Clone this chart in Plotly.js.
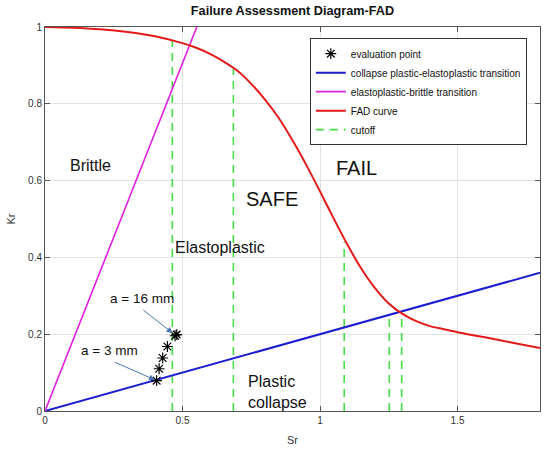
<!DOCTYPE html>
<html>
<head>
<meta charset="utf-8">
<script src="https://cdn.plot.ly/plotly-3.0.1.min.js"></script>
<style>
  html, body { margin: 0; padding: 0; background: #fff; }
  #plot1 { width: 550px; height: 452px; }
</style>
</head>
<body>
<div id="plot1"></div>
<script>
// values

// FAD curve (Sr, Kr)
var fadSr = [0, 0.1, 0.2, 0.3, 0.4, 0.5, 0.55, 0.6, 0.65, 0.7, 0.75, 0.8, 0.85, 0.9, 0.95,
  1.0, 1.05, 1.1, 1.15, 1.2, 1.25, 1.3, 1.35, 1.4, 1.45, 1.5, 1.6, 1.7, 1.8];
var fadKr = [1.0, 0.998, 0.994, 0.987, 0.976, 0.958, 0.946, 0.930, 0.910, 0.886, 0.852, 0.811, 0.763, 0.705, 0.641,
  0.572, 0.501, 0.433, 0.371, 0.320, 0.280, 0.253, 0.234, 0.221, 0.213, 0.205, 0.192, 0.178, 0.164];

// collapse plastic-elastoplastic transition
var collapseSr = [0, 1.8];
var collapseKr = [0, 0.36];

// elastoplastic-brittle transition
var brittleSr = [0, 0.552];
var brittleKr = [0, 1];

// evaluation points (a = 3 mm ... a = 16 mm)
var evalSr = [0.406, 0.415, 0.428, 0.445, 0.473, 0.479];
var evalKr = [0.079, 0.110, 0.138, 0.168, 0.196, 0.199];

// cutoff lines: position and top
var cutoffSr = [0.463, 0.685, 1.088, 1.252, 1.297];
var cutoffTop = [0.967, 0.89, 0.44, 0.255, 0.25];

function draw() {
  try {
    var font = 'Liberation Sans, Arial, sans-serif';

    // build the dashed cutoff segments, broken with nulls
    var cx = [], cy = [];
    for (var i = 0; i < cutoffSr.length; i++) {
      cx.push(cutoffSr[i], cutoffSr[i], null);
      cy.push(0, cutoffTop[i], null);
    }

    var cutoff = {
      x: cx, y: cy, mode: 'lines', name: 'cutoff', legendrank: 5,
      line: {color: '#44dd44', width: 1.6, dash: '8px,6px'}
    };
    var collapse = {
      x: collapseSr, y: collapseKr, mode: 'lines', legendrank: 2,
      name: 'collapse plastic-elastoplastic transition',
      line: {color: '#1c1cd0', width: 2}
    };
    var brittle = {
      x: brittleSr, y: brittleKr, mode: 'lines', legendrank: 3,
      name: 'elastoplastic-brittle transition',
      line: {color: '#e020e0', width: 1.6}
    };
    var fad = {
      x: fadSr, y: fadKr, mode: 'lines', name: 'FAD curve', legendrank: 4,
      line: {color: '#e41a1a', width: 2, shape: 'spline', smoothing: 0.8}
    };
    var points = {
      x: evalSr, y: evalKr, mode: 'markers', name: 'evaluation point', legendrank: 1,
      marker: {symbol: 'asterisk-open', size: 9, color: '#000',
        line: {color: '#000', width: 1.2}}
    };

    var data = [cutoff, collapse, brittle, fad, points];

    var axisCommon = {
      showline: true, linecolor: '#555', linewidth: 1, mirror: 'ticks',
      ticks: 'inside', ticklen: 5, tickcolor: '#555',
      showgrid: true, gridcolor: '#e2e2e2', zeroline: false,
      tickfont: {family: font, size: 10, color: '#333'}
    };

    var xaxis = Object.assign({}, axisCommon, {
      range: [0, 1.8], tickvals: [0, 0.5, 1, 1.5], ticktext: ['0', '0.5', '1', '1.5'],
      title: {text: 'Sr', font: {family: font, size: 11, color: '#333'}, standoff: 11}
    });
    var yaxis = Object.assign({}, axisCommon, {
      range: [0, 1], tickvals: [0, 0.2, 0.4, 0.6, 0.8, 1],
      ticktext: ['0', '0.2', '0.4', '0.6', '0.8', '1'],
      title: {text: 'Kr', font: {family: font, size: 11, color: '#333'}, standoff: 10}
    });

    var big = {family: font, size: 20, color: '#111'};
    var mid = {family: font, size: 16, color: '#111'};
    var small = {family: font, size: 13.5, color: '#111'};

    var arrowColor = '#4a74b0';

    var layout = {
      width: 550, height: 452,
      margin: {l: 45, r: 10, t: 27, b: 41},
      paper_bgcolor: '#fff', plot_bgcolor: '#fff',
      title: {
        text: '<b>Failure Assessment Diagram-FAD</b>',
        font: {family: font, size: 12.7, color: '#111'},
        x: 0.5, xref: 'paper', y: 0.976, yanchor: 'middle'
      },
      xaxis: xaxis, yaxis: yaxis,
      showlegend: true,
      legend: {
        x: 0.535, y: 0.971, xanchor: 'left', yanchor: 'top',
        bgcolor: '#fff', bordercolor: '#333', borderwidth: 1,
        font: {family: font, size: 10, color: '#111'},
        itemwidth: 30, tracegroupgap: 0
      },
      annotations: [
        {x: 0.164, y: 0.64, text: 'Brittle', showarrow: false, font: mid},
        {x: 0.467, y: 0.425, text: 'Elastoplastic', showarrow: false, font: mid, xanchor: 'left'},
        {x: 0.827, y: 0.551, text: 'SAFE', showarrow: false, font: big},
        {x: 1.131, y: 0.633, text: 'FAIL', showarrow: false, font: big},
        {x: 0.731, y: 0.05, text: 'Plastic<br>collapse', showarrow: false, font: mid,
          xanchor: 'left', align: 'left'},
        {x: 0.23, y: 0.293, text: 'a = 16 mm', showarrow: false, font: small, xanchor: 'left'},
        {x: 0.125, y: 0.157, text: 'a = 3 mm', showarrow: false, font: small, xanchor: 'left'},
        {x: 0.464, y: 0.203, ax: 0.352, ay: 0.266, axref: 'x', ayref: 'y', text: '',
          showarrow: true, arrowhead: 2, arrowsize: 1.2, arrowwidth: 1, arrowcolor: arrowColor},
        {x: 0.40, y: 0.081, ax: 0.248, ay: 0.129, axref: 'x', ayref: 'y', text: '',
          showarrow: true, arrowhead: 2, arrowsize: 1.2, arrowwidth: 1, arrowcolor: arrowColor}
      ]
    };

    Plotly.newPlot('plot1', data, layout, {displayModeBar: false, staticPlot: true});
  }
  catch (err) {
    console.error(err);
  }
}
draw();
</script>
</body>
</html>
